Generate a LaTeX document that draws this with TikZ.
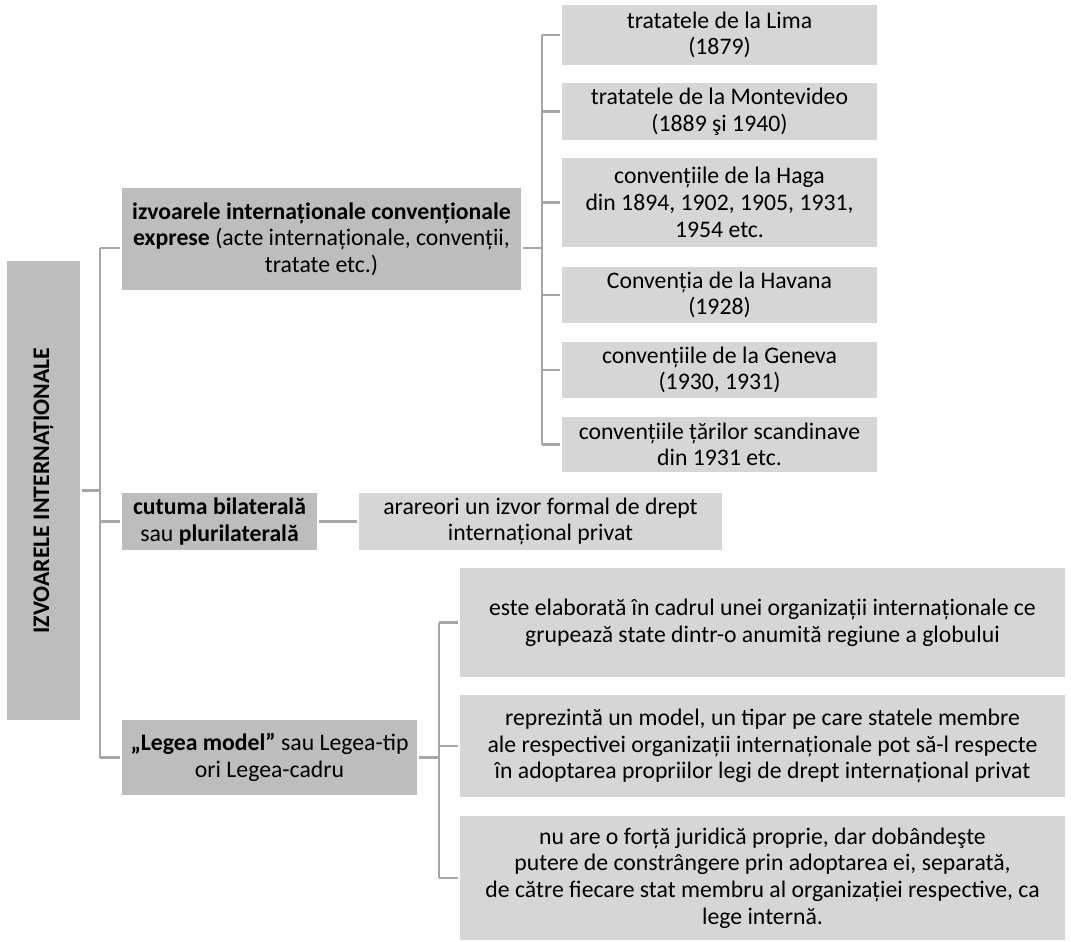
\documentclass[tikz,border=0pt]{standalone}
\usepackage{fontspec}
\setmainfont{Carlito}
\usetikzlibrary{calc}
\definecolor{boxdark}{HTML}{BDBDBD}
\definecolor{boxlight}{HTML}{D6D6D6}
\definecolor{linegray}{HTML}{A6A6A6}
\begin{document}
\begin{tikzpicture}[x=0.75pt,y=-0.75pt,
  box/.style={inner sep=0pt, outer sep=1.5pt, align=center, text=black,
    font=\fontsize{17.8pt}{20pt}\selectfont},
  dark/.style={box, fill=boxdark},
  light/.style={box, fill=boxlight},
  sz/.style 2 args={minimum width=#1*0.75pt, minimum height=#2*0.75pt},
  conn/.style={draw=linegray, line width=2pt}]
\useasboundingbox (0,0) rectangle (1071,942);
% left column
\node[dark, sz={459}{73}, rotate=90] (IZ) at (43.5,490.5) {\textbf{IZVOARELE INTERNAȚIONALE}};
\node[dark, sz={399}{102}] (B1) at (321.5,239)
  {\textbf{izvoarele internaționale convenționale}\\\textbf{exprese} (acte internaționale, convenții,\\tratate etc.)};
\node[dark, sz={195}{57}] (B2) at (219.5,521.5) {\textbf{cutuma bilaterală}\\sau \textbf{plurilaterală}};
\node[light, sz={363}{57}] (B3) at (540.5,521.5) {arareori un izvor formal de drept\\internațional privat};
\node[dark, sz={295}{75}] (B4) at (269.5,757.5) {\textbf{„Legea model”} sau Legea-tip\\ori Legea-cadru};
% right column (conventions)
\node[light, sz={315}{60}] (R1) at (719.5,35) {tratatele de la Lima\\(1879)};
\node[light, sz={315}{57}] (R2) at (719.5,111.5) {tratatele de la Montevideo\\(1889 şi 1940)};
\node[light, sz={315}{89}] (R3) at (719.5,202.5) {convențiile de la Haga\\din 1894, 1902, 1905, 1931,\\1954 etc.};
\node[light, sz={315}{56}] (R4) at (719.5,295) {Convenția de la Havana\\(1928)};
\node[light, sz={315}{56}] (R5) at (719.5,370) {convențiile de la Geneva\\(1930, 1931)};
\node[light, sz={315}{55}] (R6) at (719.5,444.5) {convențiile țărilor scandinave\\din 1931 etc.};
% lower right column (model law)
\node[light, sz={605}{109}] (L1) at (762.5,622.5)
  {este elaborată în cadrul unei organizații internaționale ce\\grupează state dintr-o anumită regiune a globului};
\node[light, sz={605}{102}] (L2) at (762.5,746)
  {reprezintă un model, un tipar pe care statele membre\\ale respectivei organizații internaționale pot să-l respecte\\în adoptarea propriilor legi de drept internațional privat};
\node[light, sz={605}{124}] (L3) at (762.5,878)
  {nu are o forță juridică proprie, dar dobândeşte\\putere de constrângere prin adoptarea ei, separată,\\de către fiecare stat membru al organizației respective, ca\\lege internă.};
% connectors
\coordinate (s1t) at (100,248);
\coordinate (s1b) at (100,757.5);
\coordinate (b1l) at ([yshift=-6.75pt]B1.west);
\coordinate (b1r) at ([yshift=-6.75pt]B1.east);
\coordinate (s2t) at (542,35);
\coordinate (s3t) at (439,622.5);
\draw[conn] (s1t) -- (s1b);
\draw[conn] (IZ.south) -- (IZ.south -| s1t);
\draw[conn] (s1t) -- (b1l);
\draw[conn] (B2.west -| s1t) -- (B2.west);
\draw[conn] (s1b) -- (B4.west);
\draw[conn] (B2.east) -- (B3.west);
\draw[conn] (b1r) -- (b1r -| s2t);
\draw[conn] (s2t) -- (s2t |- R6.west);
\foreach \r in {R1,R2,R3,R4,R5,R6} \draw[conn] (\r.west -| s2t) -- (\r.west);
\draw[conn] (s3t) -- (s3t |- L3.west);
\draw[conn] (B4.east) -- (B4.east -| s3t);
\foreach \r in {L1,L2,L3} \draw[conn] (\r.west -| s3t) -- (\r.west);
\end{tikzpicture}
\end{document}
